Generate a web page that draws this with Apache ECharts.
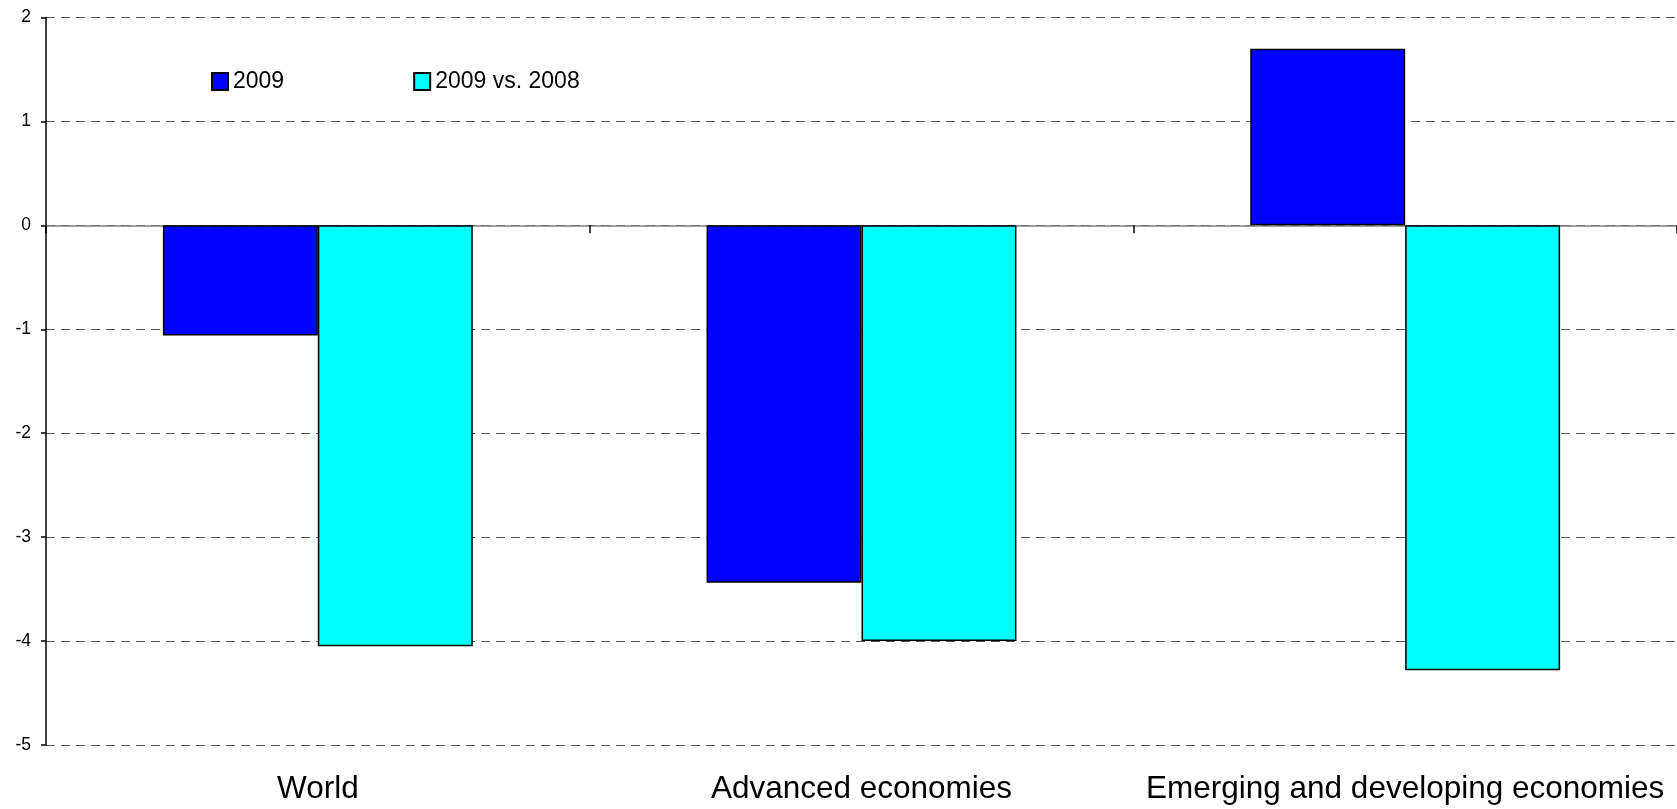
<!DOCTYPE html>
<html>
<head>
<meta charset="utf-8">
<script src="https://cdn.jsdelivr.net/npm/echarts@6/dist/echarts.min.js"></script>
<style>
html,body{margin:0;padding:0;background:#fff;}
#chart{width:1677px;height:809px;}
</style>
</head>
<body>
<div id="chart"></div>
<script>
const categories = ['World', 'Advanced economies', 'Emerging and developing economies'];
const series2009 = [-1.06, -3.44, 1.7];
const seriesVs2008 = [-4.05, -4.0, -4.28];
const seriesNames = ['2009', '2009 vs. 2008'];
const yTicks = { min: -5, max: 2, interval: 1 };

const FONT = '"Liberation Sans", Arial, sans-serif';
const chart = echarts.init(document.getElementById('chart'));
chart.setOption({
  animation: false,
  backgroundColor: '#fff',
  grid: { left: 46, right: -3, top: 17.5, bottom: 64, containLabel: false },
  legend: {
    left: 206, top: 65,
    itemWidth: 16, itemHeight: 17, itemGap: 129,
    icon: 'rect',
    textStyle: { fontFamily: FONT, fontSize: 23, color: '#000' },
    data: seriesNames
  },
  xAxis: [
    {
      type: 'category',
      data: categories,
      axisLine: { show: false, onZero: false },
      axisTick: { show: false },
      splitLine: { show: false },
      axisLabel: { fontFamily: FONT, fontSize: 31.5, color: '#000', margin: 28, interval: 0 }
    },
    {
      type: 'category',
      data: categories,
      position: 'bottom',
      axisLine: { show: true, onZero: true, lineStyle: { color: '#808080', width: 1.5 } },
      axisTick: { show: true, length: 8, lineStyle: { color: '#000', width: 1.5 } },
      axisLabel: { show: false },
      splitLine: { show: false }
    }
  ],
  yAxis: {
    type: 'value',
    min: yTicks.min, max: yTicks.max, interval: yTicks.interval,
    axisLine: { show: true, lineStyle: { color: '#000', width: 1.5 } },
    axisTick: { show: true, length: 5, lineStyle: { color: '#000', width: 1.5 } },
    axisLabel: { fontFamily: FONT, fontSize: 17.5, color: '#000', margin: 15 },
    splitLine: { show: true, lineStyle: { color: '#555', type: [9, 6], width: 1 } }
  },
  series: [
    {
      name: seriesNames[0], type: 'bar', xAxisIndex: 0,
      data: series2009,
      barGap: '0%', barCategoryGap: '43%',
      itemStyle: { color: '#0000FF', borderColor: '#000', borderWidth: 1.5 }
    },
    {
      name: seriesNames[1], type: 'bar', xAxisIndex: 0,
      data: seriesVs2008,
      barGap: '0%', barCategoryGap: '43%',
      itemStyle: { color: '#00FFFF', borderColor: '#000', borderWidth: 1.5 }
    }
  ]
});
</script>
</body>
</html>
